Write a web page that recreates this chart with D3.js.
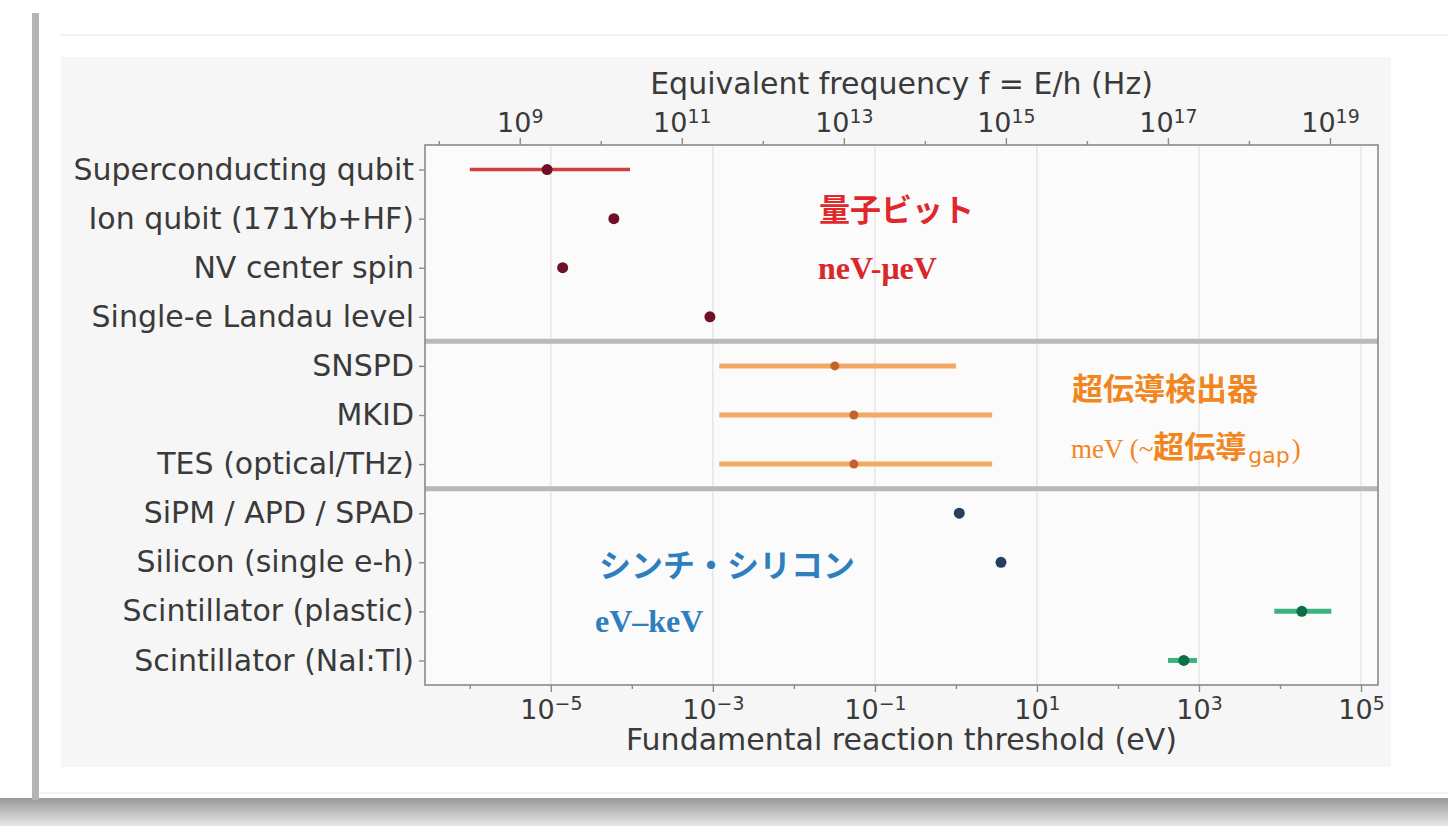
<!DOCTYPE html>
<html>
<head>
<meta charset="utf-8">
<script src="https://cdn.jsdelivr.net/npm/d3@7"></script>
<style>
  body { margin: 0; background: #ffffff; }
  svg { display: block; }
</style>
</head>
<body>
<div id="chart"></div>
<script>
// detectors, top to bottom
var detectors = [
  "Superconducting qubit", "Ion qubit (171Yb+HF)", "NV center spin", "Single-e Landau level",
  "SNSPD", "MKID", "TES (optical/THz)",
  "SiPM / APD / SPAD", "Silicon (single e-h)", "Scintillator (plastic)", "Scintillator (NaI:Tl)"
];
var groups = ["qubit", "qubit", "qubit", "qubit", "sc", "sc", "sc", "si", "si", "scint", "scint"];
// threshold in eV (center, low, high)
var thresholds = [9e-6, 6e-5, 1.4e-5, 9.2e-4, 0.032, 0.055, 0.055, 1.1, 3.6, 1.86e4, 650];
var lows = [1e-6, null, null, null, 1.2e-3, 1.2e-3, 1.2e-3, null, null, 8.5e3, 415];
var highs = [9.5e-5, null, null, null, 1.0, 2.8, 2.8, null, null, 4.3e4, 945];

var eTicks = [1e-5, 1e-3, 1e-1, 1e1, 1e3, 1e5];
var fTicks = [1e9, 1e11, 1e13, 1e15, 1e17, 1e19];
var h = 4.135667e-15; // eV s

var svgWidth = 1448;
var svgHeight = 826;
var plot = { left: 425, right: 1378, top: 145, bottom: 685 };

var barColor = { qubit: "#d23f3f", sc: "#f5a865", si: "#24405e", scint: "#3cb37e" };
var dotColor = { qubit: "#6e1028", sc: "#c2632a", si: "#24405e", scint: "#0b6e4a" };

var svg = d3.select("#chart")
  .append("svg")
  .attr("width", svgWidth)
  .attr("height", svgHeight);

// card / screenshot frame
var shadow = svg.append("defs").append("linearGradient")
  .attr("id", "shadowGrad").attr("x1", 0).attr("y1", 0).attr("x2", 0).attr("y2", 1);
shadow.append("stop").attr("offset", "0%").attr("stop-color", "#999999");
shadow.append("stop").attr("offset", "100%").attr("stop-color", "#e8e8e8");
svg.append("rect").attr("x", 0).attr("y", 798).attr("width", svgWidth).attr("height", 28)
  .attr("fill", "url(#shadowGrad)");
svg.append("rect").attr("x", 32).attr("y", 13).attr("width", 7).attr("height", 787)
  .attr("fill", "#b4b4b4");
svg.append("rect").attr("x", 39).attr("y", 13).attr("width", 1409).attr("height", 785)
  .attr("fill", "#ffffff");
svg.append("line").attr("x1", 60).attr("x2", svgWidth).attr("y1", 35).attr("y2", 35)
  .attr("stroke", "#ececec").attr("stroke-width", 1.5);
svg.append("line").attr("x1", 40).attr("x2", svgWidth).attr("y1", 793).attr("y2", 793)
  .attr("stroke", "#ececec").attr("stroke-width", 1.5);

// figure background
svg.append("rect").attr("x", 61).attr("y", 57).attr("width", 1330).attr("height", 710)
  .attr("fill", "#f6f6f6");
svg.append("rect").attr("x", plot.left).attr("y", plot.top)
  .attr("width", plot.right - plot.left).attr("height", plot.bottom - plot.top)
  .attr("fill", "#fbfbfb");

var xScale = d3.scaleLog()
  .domain([2.8e-7, 1.62e5])
  .range([plot.left, plot.right]);

var fScale = d3.scaleLog()
  .domain(xScale.domain().map(function(e) { return e / h; }))
  .range([plot.left, plot.right]);

var yScale = d3.scaleLinear()
  .domain([-0.5, detectors.length - 0.5])
  .range([plot.top, plot.bottom]);

var chartGroup = svg.append("g");

// grid
chartGroup.selectAll(".grid")
  .data(eTicks)
  .enter()
  .append("line")
  .attr("x1", d => xScale(d)).attr("x2", d => xScale(d))
  .attr("y1", plot.top).attr("y2", plot.bottom)
  .attr("stroke", "#e3e3e3")
  .attr("stroke-width", 1.3);

// group separators
chartGroup.selectAll(".sep")
  .data([3.5, 6.5])
  .enter()
  .append("line")
  .attr("x1", plot.left).attr("x2", plot.right)
  .attr("y1", d => yScale(d)).attr("y2", d => yScale(d))
  .attr("stroke", "#b9b9b9")
  .attr("stroke-width", 5);

// frame
chartGroup.append("rect")
  .attr("x", plot.left).attr("y", plot.top)
  .attr("width", plot.right - plot.left).attr("height", plot.bottom - plot.top)
  .attr("fill", "none")
  .attr("stroke", "#8a8a8a")
  .attr("stroke-width", 1.6);

// axes
function superLabel(sel, d) {
  var exp = Math.round(Math.log10(d));
  sel.text("");
  sel.append("tspan").text("10");
  sel.append("tspan")
    .attr("dy", "-0.48em")
    .attr("font-size", "0.7em")
    .text(exp < 0 ? "\u2212" + (-exp) : exp);
}

var minorE = d3.range(-6, 6, 2).map(d => Math.pow(10, d));
var minorF = d3.range(8, 20, 2).map(d => Math.pow(10, d));

var bottomAxis = d3.axisBottom(xScale).tickValues(eTicks).tickSize(7).tickPadding(6).tickFormat("");
var topAxis = d3.axisTop(fScale).tickValues(fTicks).tickSize(7).tickPadding(6).tickFormat("");

var gBottom = chartGroup.append("g")
  .attr("transform", `translate(0, ${plot.bottom})`)
  .call(bottomAxis);
var gTop = chartGroup.append("g")
  .attr("transform", `translate(0, ${plot.top})`)
  .call(topAxis);

chartGroup.append("g")
  .attr("transform", `translate(0, ${plot.bottom})`)
  .call(d3.axisBottom(xScale).tickValues(minorE.filter(d => d > 2.8e-7)).tickSize(4).tickFormat(""));
chartGroup.append("g")
  .attr("transform", `translate(0, ${plot.top})`)
  .call(d3.axisTop(fScale).tickValues(minorF.filter(d => fScale(d) > plot.left && fScale(d) < plot.right)).tickSize(4).tickFormat(""));

chartGroup.selectAll(".domain").remove();
chartGroup.selectAll(".tick line").attr("stroke", "#8a8a8a").attr("stroke-width", 1.4);

gBottom.selectAll(".tick").append("text")
  .attr("y", 34)
  .attr("fill", "#3a3a3a")
  .attr("font-family", "DejaVu Sans")
  .attr("font-size", 27)
  .attr("text-anchor", "middle")
  .each(function(d) { superLabel(d3.select(this), d); });

gTop.selectAll(".tick").append("text")
  .attr("y", -13)
  .attr("fill", "#3a3a3a")
  .attr("font-family", "DejaVu Sans")
  .attr("font-size", 27)
  .attr("text-anchor", "middle")
  .each(function(d) { superLabel(d3.select(this), d); });

var leftAxis = d3.axisLeft(yScale)
  .tickValues(d3.range(detectors.length))
  .tickSize(6)
  .tickPadding(5)
  .tickFormat(i => detectors[i]);

var gLeft = chartGroup.append("g")
  .attr("transform", `translate(${plot.left}, 0)`)
  .call(leftAxis);
gLeft.select(".domain").remove();
gLeft.selectAll(".tick line").attr("stroke", "#8a8a8a").attr("stroke-width", 1.4);
gLeft.selectAll(".tick text")
  .attr("fill", "#3a3a3a")
  .attr("font-family", "DejaVu Sans")
  .attr("font-size", 30);

// axis titles
chartGroup.append("text")
  .attr("x", (plot.left + plot.right) / 2)
  .attr("y", 94)
  .attr("text-anchor", "middle")
  .attr("fill", "#3a3a3a")
  .attr("font-family", "DejaVu Sans")
  .attr("font-size", 30)
  .text("Equivalent frequency f = E/h (Hz)");

chartGroup.append("text")
  .attr("x", (plot.left + plot.right) / 2)
  .attr("y", 750)
  .attr("text-anchor", "middle")
  .attr("fill", "#3a3a3a")
  .attr("font-family", "DejaVu Sans")
  .attr("font-size", 30)
  .text("Fundamental reaction threshold (eV)");

// error bars and points
var rows = detectors.map(function(name, i) {
  return { name: name, group: groups[i], x: thresholds[i], lo: lows[i], hi: highs[i], row: i };
});

chartGroup.selectAll(".err")
  .data(rows.filter(d => d.lo !== null))
  .enter()
  .append("line")
  .attr("x1", d => xScale(d.lo))
  .attr("x2", d => xScale(d.hi))
  .attr("y1", d => yScale(d.row))
  .attr("y2", d => yScale(d.row))
  .attr("stroke", d => barColor[d.group])
  .attr("stroke-width", d => d.group === "qubit" ? 3.5 : 5);

chartGroup.selectAll(".pt")
  .data(rows)
  .enter()
  .append("circle")
  .attr("cx", d => xScale(d.x))
  .attr("cy", d => yScale(d.row))
  .attr("r", d => d.group === "sc" ? 4.5 : 5.5)
  .attr("fill", d => dotColor[d.group]);

// group annotations
var jp = "'Noto Sans CJK JP', 'Noto Sans CJK SC', sans-serif";
var serif = "'Liberation Serif', 'DejaVu Serif', serif";

chartGroup.append("text")
  .attr("x", 819).attr("y", 221)
  .attr("fill", "#e0282c").attr("font-family", jp).attr("font-weight", "bold").attr("font-size", 31)
  .text("量子ビット");
chartGroup.append("text")
  .attr("x", 818).attr("y", 279)
  .attr("fill", "#d8282c").attr("font-family", serif).attr("font-weight", "bold").attr("font-size", 32)
  .text("neV-μeV");

chartGroup.append("text")
  .attr("x", 1072).attr("y", 400)
  .attr("fill", "#f2861e").attr("font-family", jp).attr("font-weight", "bold").attr("font-size", 31)
  .text("超伝導検出器");
var sub = chartGroup.append("text")
  .attr("x", 1071).attr("y", 458)
  .attr("fill", "#f2861e").attr("font-family", serif).attr("font-size", 27);
sub.append("tspan").text("meV (~");
sub.append("tspan").attr("font-family", jp).attr("font-weight", "bold").attr("font-size", 31).text("超伝導");
sub.append("tspan").attr("font-family", "DejaVu Sans").attr("font-size", 22).attr("dy", 5).attr("dx", 2)
  .text("gap");
sub.append("tspan").attr("dy", -5).attr("dx", 2).text(")");

chartGroup.append("text")
  .attr("x", 599).attr("y", 577)
  .attr("fill", "#2f7fbf").attr("font-family", jp).attr("font-weight", "bold").attr("font-size", 32)
  .text("シンチ・シリコン");
chartGroup.append("text")
  .attr("x", 595).attr("y", 632)
  .attr("fill", "#2f7fbf").attr("font-family", serif).attr("font-weight", "bold").attr("font-size", 32)
  .text("eV–keV");
</script>
</body>
</html>
